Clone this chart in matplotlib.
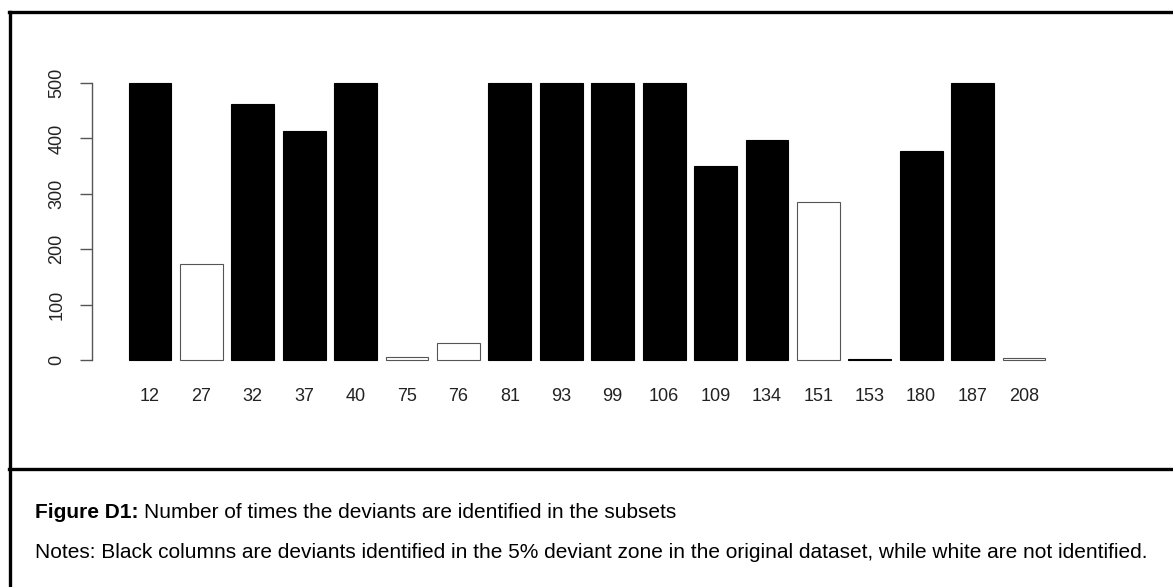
import matplotlib
matplotlib.use("Agg")
import matplotlib.pyplot as plt
from matplotlib.lines import Line2D

plt.rcParams['font.family'] = ['Liberation Sans', 'DejaVu Sans']

categories = ["12", "27", "32", "37", "40", "75", "76", "81", "93", "99",
              "106", "109", "134", "151", "153", "180", "187", "208"]
values = [500, 173, 463, 413, 500, 5, 30, 500, 500, 500,
          500, 350, 398, 285, 1, 377, 500, 3]
identified = [True, False, True, True, True, False, False, True, True, True,
              True, True, True, False, True, True, True, False]
yticks = [0, 100, 200, 300, 400, 500]

W, H = 1173, 587
fig = plt.figure(figsize=(W / 100, H / 100), dpi=100)

# axes placement (pixels)
left_px, right_px = 92, 1082
top_px, bot_px = 72, 371
ax = fig.add_axes([left_px / W, 1 - bot_px / H, (right_px - left_px) / W, (bot_px - top_px) / H])

x = list(range(len(categories)))
colors = ['black' if f else 'white' for f in identified]
edges = ['black' if f else '#555555' for f in identified]
ax.bar(x, values, width=1 / 1.2, color=colors, edgecolor=edges, linewidth=0.8)

ax.set_xlim(-1.128, 18.128)
ax.set_ylim(-20, 520)
for s in ['top', 'right', 'bottom']:
    ax.spines[s].set_visible(False)
ax.spines['left'].set_bounds(0, 500)
ax.spines['left'].set_color('#555555')
ax.spines['left'].set_linewidth(1.0)
ax.set_yticks(yticks)
ax.set_yticklabels([str(t) for t in yticks], rotation=90, va='center', fontsize=13, color='#222222')
ax.tick_params(axis='y', length=8.6, width=1.0, color='#555555', pad=10.5)
ax.set_xticks(x)
ax.set_xticklabels(categories, fontsize=13, color='#222222')
ax.tick_params(axis='x', length=0, pad=12.5)

# frame lines
lw = 2.4
fig.add_artist(Line2D([9.5 / W, 9.5 / W], [0, 1 - 11.5 / H], transform=fig.transFigure, color='black', lw=lw))
fig.add_artist(Line2D([8.5 / W, 1], [1 - 11.5 / H, 1 - 11.5 / H], transform=fig.transFigure, color='black', lw=lw))
fig.add_artist(Line2D([8.5 / W, 1], [1 - 468.5 / H, 1 - 468.5 / H], transform=fig.transFigure, color='black', lw=lw))

# captions
t1 = fig.text(35 / W, 1 - 513 / H, "Figure D1:", fontsize=15, fontweight='bold', va='center', ha='left')
fig.canvas.draw()
bb = t1.get_window_extent()
fig.text((bb.x1 + 5) / W, 1 - 513 / H, "Number of times the deviants are identified in the subsets",
         fontsize=15, va='center', ha='left')
fig.text(35 / W, 1 - 552 / H,
         "Notes: Black columns are deviants identified in the 5% deviant zone in the original dataset, while white are not identified.",
         fontsize=15, va='center', ha='left')

fig.savefig("out.png", dpi=100)
